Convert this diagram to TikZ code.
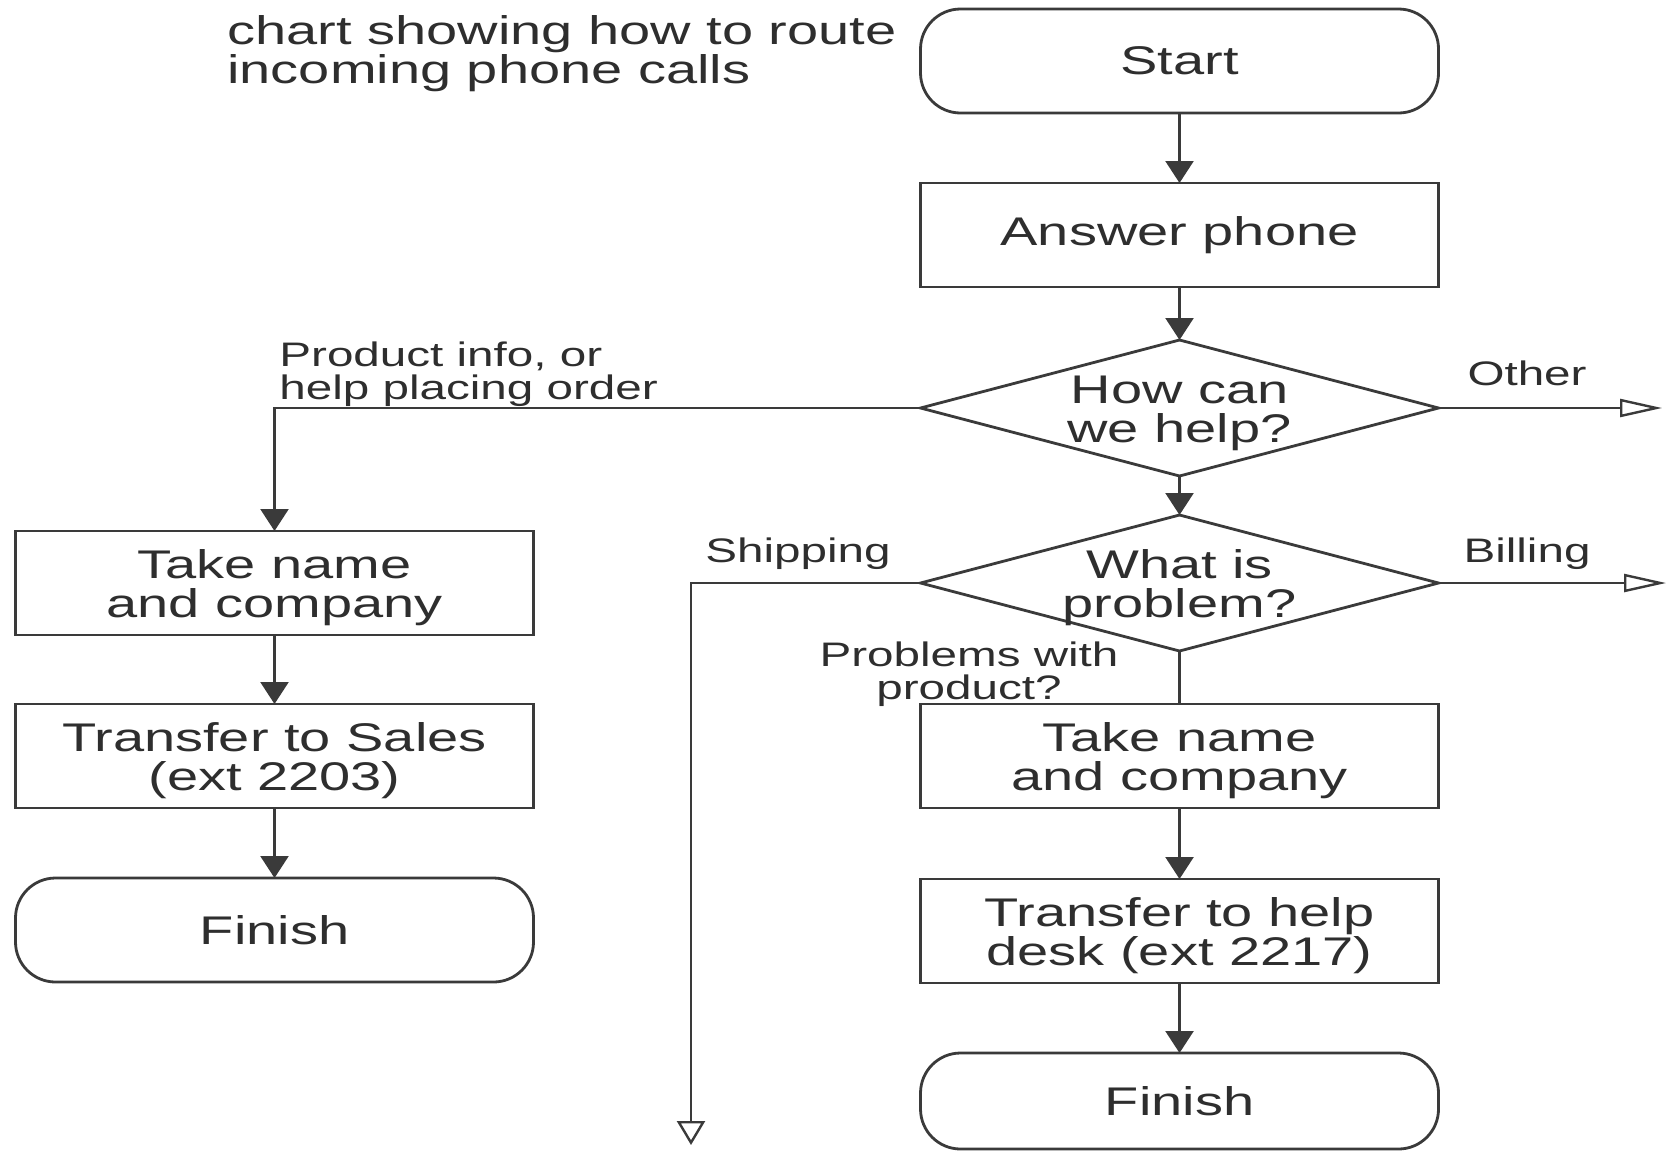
\documentclass[tikz,border=0pt]{standalone}
\usepackage{fontspec}
\setmainfont{Liberation Sans}[FakeStretch=1.4]
\usepackage{xcolor}
\usetikzlibrary{arrows.meta,positioning,shapes.geometric}
\definecolor{ink}{HTML}{2E2E2E}
\definecolor{linegray}{HTML}{3A3A3A}
\tikzset{
  >={Triangle[length=11pt,width=14pt]},
  flow/.style={->,line width=1.2pt,draw=linegray},
  plain/.style={line width=1.2pt,draw=linegray},
  exitflow/.style={-{Triangle[open,length=21pt,width=9pt]},line width=1.2pt,draw=linegray},
  exitdown/.style={-{Triangle[open,length=12pt,width=14pt]},line width=1.2pt,draw=linegray},
  base/.style={draw=linegray,line width=1.4pt,align=center,text=ink,outer sep=0pt,
               minimum width=259pt,minimum height=52pt,inner sep=2pt,
               font=\fontsize{20}{19.5}\selectfont},
  process/.style={base},
  twoline/.style={text height=39pt,text depth=4.2pt},
  terminal/.style={base,rounded corners=20pt},
  decision/.style={base,twoline,diamond,aspect=3.8,inner xsep=-15pt,inner ysep=0pt,minimum height=68pt},
  lbl/.style={inner sep=0pt,text=ink,font=\fontsize{17}{16.5}\selectfont}
}
\begin{document}
\begin{tikzpicture}[x=0.5pt,y=-0.5pt]
  \useasboundingbox (0,0) rectangle (1668,1157);
  \node[lbl,font=\fontsize{20}{19.5}\selectfont,align=left,anchor=north west] (title) at (227,15) {chart showing how to route\\incoming phone calls};
  % main column
  \node[terminal] (start) at (1179.5,61) {Start};
  \node[process,below=35pt of start] (answer) {Answer phone};
  \node[decision,below=26.5pt of answer] (howhelp) {How can\\we help?};
  \node[decision,below=19.5pt of howhelp] (whatprob) {What is\\problem?};
  \node[process,twoline,below=26.5pt of whatprob] (take2) {Take name\\and company};
  \node[process,twoline,below=35.5pt of take2] (helpdesk) {Transfer to help\\desk (ext 2217)};
  \node[terminal,minimum height=48pt,below=35pt of helpdesk] (finish2) {Finish};
  % sales column
  \node[process,twoline] (take1) at (274.5,583) {Take name\\and company};
  \node[process,twoline,below=34.5pt of take1] (sales) {Transfer to Sales\\(ext 2203)};
  \node[terminal,below=35pt of sales] (finish1) {Finish};
  % free ends
  \coordinate (otherend) at (1662,408);
  \coordinate (billend) at (1666,583);
  \coordinate (shipend) at (691,1145);
  \draw[flow] (start)--(answer); \draw[flow] (answer)--(howhelp); \draw[flow] (howhelp)--(whatprob);
  \draw[plain] (whatprob)--(take2); \draw[flow] (take2)--(helpdesk); \draw[flow] (helpdesk)--(finish2);
  \draw[flow] (take1)--(sales); \draw[flow] (sales)--(finish1);
  \draw[flow] (howhelp.west) -| (take1.north);
  \draw[exitflow] (howhelp.east)--(otherend);
  \draw[exitflow] (whatprob.east)--(billend);
  \draw[exitdown] (whatprob.west) -| (shipend);
  % branch labels
  \node[lbl,align=left,anchor=south west] (prodlbl) at (279,407) {Product info, or\\help placing order};
  \node[lbl,anchor=base] (otherlbl) at (1527,385) {Other};
  \node[lbl,anchor=base] (billlbl) at (1527,562) {Billing};
  \node[lbl,anchor=base] (shiplbl) at (798,562) {Shipping};
  \node[lbl,align=center,anchor=north] (problbl) at (969,641) {Problems with\\product?};
\end{tikzpicture}
\end{document}
